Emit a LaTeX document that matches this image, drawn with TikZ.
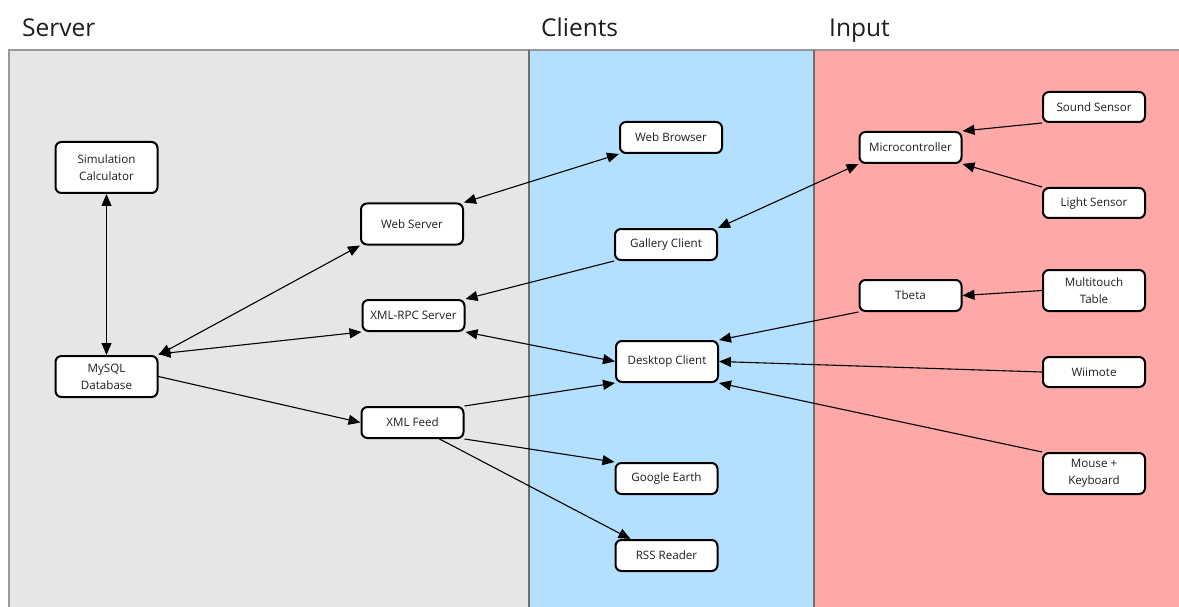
\documentclass[tikz,border=0pt]{standalone}
\usepackage{fontspec}
\setmainfont{Open Sans}
\usetikzlibrary{arrows.meta}
\definecolor{srvbg}{HTML}{E6E6E6}
\definecolor{clibg}{HTML}{B3E0FF}
\definecolor{inpbg}{HTML}{FFA8A8}
\definecolor{frameC}{HTML}{9A9A9A}
\definecolor{divC}{HTML}{6E6E6E}
\definecolor{txtC}{HTML}{1E1E1E}
\tikzset{
  box/.style={draw=black, line width=2pt, rounded corners=6pt, fill=white,
    minimum width=102pt, minimum height=31pt, inner sep=0pt, align=center,
    font=\fontsize{11.6}{17}\selectfont, text=txtC},
  title/.style={anchor=base west, font=\fontsize{24.5}{28}\selectfont, text=txtC, inner sep=0pt},
  conn/.style={line width=1.1pt, -{Triangle[length=12pt,width=10pt]}},
  bconn/.style={line width=1.1pt, {Triangle[length=12pt,width=10pt]}-{Triangle[length=12pt,width=10pt]}},
}
\begin{document}
\begin{tikzpicture}[x=1pt,y=-1pt]
\useasboundingbox (0,0) rectangle (1179,607);
\clip (0,0) rectangle (1179,607);
% panels
\fill[srvbg] (9,50) rectangle (529,620);
\fill[clibg] (529,50) rectangle (814,620);
\fill[inpbg] (814,50) rectangle (1190,620);
\draw[frameC, line width=1.5pt] (9,620) -- (9,50) -- (1190,50);
\draw[divC, line width=1.5pt] (529,50) -- (529,620);
\draw[divC, line width=1.5pt] (814,50) -- (814,620);
% titles
\node[title] (tserver) at (22,36.5) {Server};
\node[title] (tclients) at (541,36.5) {Clients};
\node[title] (tinput) at (829,36.5) {Input};
% nodes
\node[box, minimum height=51pt] (simcalc) at (106.5,167.5) {Simulation\\Calculator};
\node[box, minimum height=41pt] (mysql) at (106.5,376.5) {MySQL\\Database};
\node[box, minimum height=41pt] (websrv) at (412,224) {Web Server};
\node[box] (xmlrpc) at (413.5,315.5) {XML-RPC Server};
\node[box] (xmlfeed) at (412.5,422.5) {XML Feed};
\node[box] (webbrowser) at (671,137.5) {Web Browser};
\node[box] (gallery) at (666,244.5) {Gallery Client};
\node[box, minimum height=41pt] (desktop) at (667,361.5) {Desktop Client};
\node[box] (gearth) at (666.5,478.5) {Google Earth};
\node[box] (rss) at (666.5,555.5) {RSS Reader};
\node[box] (micro) at (910.5,147.5) {Microcontroller};
\node[box, minimum height=30pt] (sound) at (1094,107) {Sound Sensor};
\node[box, minimum height=30pt] (light) at (1094,203) {Light Sensor};
\node[box] (tbeta) at (910.5,295.5) {Tbeta};
\node[box, minimum height=41pt] (multi) at (1094,290.5) {Multitouch\\Table};
\node[box, minimum height=30pt] (wii) at (1094,372) {Wiimote};
\node[box, minimum height=41pt] (mouse) at (1094,473.5) {Mouse +\\Keyboard};
% connectors
\draw[bconn] (simcalc.south) -- (mysql.north);
\draw[bconn] (mysql.north east) -- (websrv.south west);
\draw[bconn] ([yshift=1pt]mysql.north east) -- (xmlrpc.south west);
\draw[conn] (mysql.east) -- (xmlfeed.west);
\draw[bconn] (websrv.north east) -- (webbrowser.south west);
\draw[conn] (gallery.south west) -- (xmlrpc.north east);
\draw[bconn] (gallery.north east) -- (micro.south west);
\draw[bconn] (xmlrpc.south east) -- (desktop.west);
\draw[conn] (xmlfeed.north east) -- (desktop.south west);
\draw[conn] (xmlfeed.south east) -- (gearth.north west);
\draw[conn] ([xshift=27pt]xmlfeed.south) -- ([xshift=-36pt]rss.north);
\draw[conn] (sound.south west) -- (micro.north east);
\draw[conn] (light.north west) -- (micro.south east);
\draw[conn] (multi.west) -- (tbeta.east);
\draw[conn] (tbeta.south west) -- (desktop.north east);
\draw[conn] (wii.west) -- (desktop.east);
\draw[conn] (mouse.north west) -- (desktop.south east);
\end{tikzpicture}
\end{document}
